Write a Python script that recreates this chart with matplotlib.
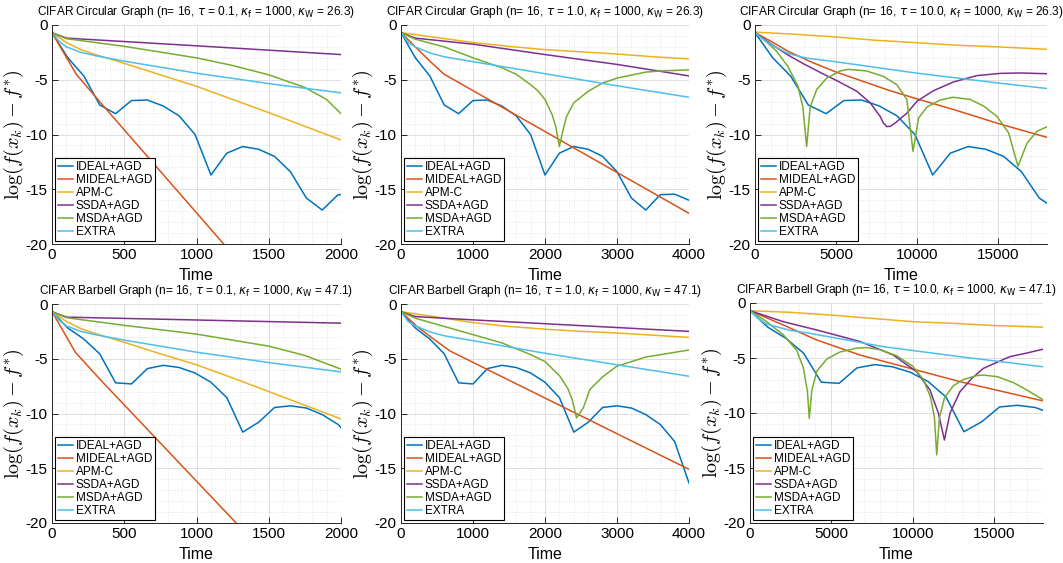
import numpy as np
import matplotlib
matplotlib.use('Agg')
import matplotlib.pyplot as plt
from matplotlib.ticker import AutoMinorLocator

plt.rcParams['font.family'] = ['Liberation Sans', 'DejaVu Sans']
plt.rcParams['axes.unicode_minus'] = False

labels = ['IDEAL+AGD', 'MIDEAL+AGD', 'APM-C', 'SSDA+AGD', 'MSDA+AGD', 'EXTRA']
colors = ['#0072BD', '#D95319', '#EDB120', '#7E2F8E', '#77AC30', '#4DBEEE']

# IDEAL+AGD values (piecewise, one value per outer iteration)
ideal_circ = [-0.7, -3.0, -4.65, -7.3, -8.1, -6.9, -6.85, -7.4, -8.3, -10.0, -13.7,
              -11.7, -11.1, -11.35, -12.0, -13.4, -15.8, -16.9, -15.5, -15.45, -16.0]
ideal_barb = [-0.7, -2.2, -3.2, -4.55, -7.2, -7.3, -5.9, -5.6, -5.8, -6.3, -7.15,
              -8.55, -11.7, -10.8, -9.45, -9.3, -9.5, -10.1, -11.0, -12.55, -16.35]
t_ideal_01 = [0, 110, 220, 330, 440, 550, 660, 770, 880, 990, 1100, 1210, 1320,
              1430, 1540, 1650, 1760, 1870, 1980, 2090]
t_ideal_1 = [0, 200, 400, 600, 800, 1000, 1200, 1400, 1600, 1800, 2000, 2200, 2400,
             2600, 2800, 3000, 3200, 3400, 3600, 3800, 4000]
t_ideal_10 = [0, 1095, 2190, 3285, 4380, 5475, 6570, 7665, 8760, 9855, 10950, 12045,
              13140, 14235, 15330, 16425, 17520, 18615]

# ---- Circular graph, tau = 0.1
c01_mideal_t = [0, 168, 330, 2000]
c01_mideal_y = [-0.7, -4.5, -7.0, -32.3]
c01_apm_t = [0, 100, 200, 300, 400, 500, 750, 1000, 1250, 1500, 1750, 2000]
c01_apm_y = [-0.7, -1.6, -2.25, -2.7, -3.1, -3.5, -4.55, -5.6, -6.8, -8.0, -9.25, -10.5]
c01_ssda_t = [0, 100, 1000, 2000]
c01_ssda_y = [-0.7, -1.2, -1.9, -2.7]
c01_msda_t = [0, 100, 500, 1000, 1250, 1500, 1750, 1900, 2000]
c01_msda_y = [-0.7, -1.25, -1.95, -3.0, -3.7, -4.55, -5.7, -6.8, -8.1]
c01_extra_t = [0, 50, 100, 200, 300, 500, 1000, 1500, 2000]
c01_extra_y = [-0.7, -1.5, -2.0, -2.5, -2.8, -3.3, -4.4, -5.35, -6.2]

# ---- Circular graph, tau = 1.0
c1_mideal_t = [0, 200, 400, 600, 4000]
c1_mideal_y = [-0.7, -2.0, -3.3, -4.5, -17.2]
c1_apm_t = [0, 500, 1000, 1500, 2000, 2500, 3000, 3500, 4000]
c1_apm_y = [-0.7, -1.15, -1.6, -1.95, -2.25, -2.45, -2.65, -2.9, -3.1]
c1_ssda_t = [0, 200, 1000, 2000, 3000, 4000]
c1_ssda_y = [-0.7, -1.2, -1.75, -2.7, -3.6, -4.65]
c1_msda_t = [0, 200, 600, 1000, 1200, 1400, 1600, 1800, 1900, 2000, 2100, 2150, 2200,
             2250, 2300, 2400, 2600, 2800, 3000, 3400, 3600, 4000]
c1_msda_y = [-0.7, -1.3, -2.0, -3.0, -3.45, -3.9, -4.5, -5.45, -6.0, -6.8, -8.2, -9.3,
             -11.1, -9.6, -8.35, -7.1, -6.05, -5.3, -4.85, -4.3, -4.2, -4.1]
c1_extra_t = [0, 100, 200, 400, 600, 1000, 2000, 3000, 4000]
c1_extra_y = [-0.7, -1.6, -2.0, -2.55, -2.9, -3.35, -4.45, -5.55, -6.6]

# ---- Circular graph, tau = 10.0
c10_mideal_t = [0, 1000, 2034, 3500, 4932, 8200, 10000, 12329, 15000, 18000]
c10_mideal_y = [-0.7, -1.5, -2.4, -3.4, -4.26, -5.94, -6.75, -7.76, -9.0, -10.26]
c10_apm_t = [0, 2500, 5000, 7500, 10000, 12500, 15000, 18000]
c10_apm_y = [-0.65, -0.85, -1.1, -1.4, -1.62, -1.85, -2.0, -2.22]
c10_ssda_t = [0, 1000, 2034, 3000, 4110, 5000, 6275, 7100, 7715, 7900, 8116, 8350, 8640,
              9360, 10000, 11000, 12240, 13680, 15120, 16350, 18000]
c10_ssda_y = [-0.7, -1.75, -2.74, -3.55, -4.4, -5.05, -6.05, -7.1, -8.35, -8.9, -9.28,
              -9.25, -8.95, -8.05, -6.95, -6.0, -5.2, -4.62, -4.42, -4.38, -4.45]
c10_msda_t = [0, 600, 1337, 2034, 2650, 2950, 3185, 3400, 3800, 4420, 5245, 5733, 6890,
              7920, 8743, 9360, 9740, 10080, 10595, 11418, 12205, 13270, 14092, 14915,
              15635, 16210, 16765, 17383, 18000]
c10_msda_y = [-0.7, -1.4, -2.4, -3.8, -5.6, -7.5, -11.1, -7.5, -5.9, -4.85, -4.2, -4.05,
              -4.2, -4.7, -5.45, -6.8, -11.55, -8.5, -7.5, -6.85, -6.6, -6.8, -7.4, -8.35,
              -9.85, -12.9, -10.8, -9.7, -9.3]
c10_extra_t = [0, 500, 1017, 2034, 3082, 4932, 10000, 15000, 18000]
c10_extra_y = [-0.7, -1.3, -1.83, -2.6, -3.0, -3.35, -4.4, -5.3, -5.8]

# ---- Barbell graph, tau = 0.1
b01_mideal_t = [0, 161, 330, 2000]
b01_mideal_y = [-0.7, -4.4, -6.85, -30.1]
b01_apm_t = [0, 100, 200, 300, 400, 500, 750, 1000, 1250, 1500, 1750, 2000]
b01_apm_y = [-0.7, -1.6, -2.25, -2.7, -3.1, -3.5, -4.55, -5.55, -6.75, -8.0, -9.25, -10.5]
b01_ssda_t = [0, 100, 2000]
b01_ssda_y = [-0.7, -1.2, -1.75]
b01_msda_t = [0, 100, 500, 1000, 1500, 1750, 2000]
b01_msda_y = [-0.7, -1.25, -1.95, -2.75, -3.85, -4.7, -5.95]
b01_extra_t = [0, 50, 100, 200, 300, 500, 1000, 1500, 2000]
b01_extra_y = [-0.7, -1.5, -2.0, -2.5, -2.8, -3.3, -4.4, -5.35, -6.2]

# ---- Barbell graph, tau = 1.0
b1_mideal_t = [0, 222, 452, 683, 4000]
b1_mideal_y = [-0.7, -2.05, -3.2, -4.3, -15.1]
b1_apm_t = [0, 500, 1000, 1500, 2000, 2500, 3000, 3500, 4000]
b1_apm_y = [-0.7, -1.2, -1.7, -2.05, -2.3, -2.5, -2.65, -2.85, -3.05]
b1_ssda_t = [0, 200, 1000, 2000, 3000, 4000]
b1_ssda_y = [-0.7, -1.15, -1.45, -1.8, -2.15, -2.5]
b1_msda_t = [0, 200, 1000, 1400, 1792, 2000, 2208, 2323, 2380, 2439, 2531, 2624, 2800,
             2993, 3395, 4000]
b1_msda_y = [-0.7, -1.3, -2.8, -3.55, -4.6, -5.25, -6.6, -7.8, -8.8, -10.4, -9.5, -7.8,
             -6.65, -5.7, -4.85, -4.2]
b1_extra_t = [0, 100, 200, 400, 600, 1000, 2000, 3000, 4000]
b1_extra_y = [-0.7, -1.6, -2.0, -2.55, -2.9, -3.35, -4.5, -5.55, -6.6]

# ---- Barbell graph, tau = 10.0
b10_mideal_t = [0, 2048, 4096, 6758, 9830, 12900, 18000]
b10_mideal_y = [-0.7, -2.0, -3.36, -4.73, -5.94, -7.15, -8.9]
b10_apm_t = [0, 2500, 5000, 7500, 10000, 12500, 15000, 18000]
b10_apm_y = [-0.7, -0.85, -1.1, -1.4, -1.7, -1.85, -2.05, -2.2]
b10_ssda_t = [0, 2048, 4096, 6758, 8805, 10235, 11055, 11570, 11943, 12290, 12900, 13600,
              14334, 15960, 17000, 18000]
b10_ssda_y = [-0.7, -1.7, -2.45, -3.5, -4.73, -6.25, -7.9, -10.0, -12.45, -10.0, -8.06,
              -6.9, -5.94, -4.88, -4.55, -4.2]
b10_msda_t = [0, 1025, 2050, 2870, 3280, 3526, 3643, 3793, 4100, 4715, 5535, 6560, 7175,
              7995, 9020, 10000, 10660, 11100, 11330, 11470, 11640, 11950, 12505, 13120,
              13940, 14334, 15200, 16200, 17000, 18000]
b10_msda_y = [-0.7, -1.7, -2.9, -4.3, -5.9, -8.0, -10.5, -8.0, -6.2, -5.1, -4.45, -4.1,
              -4.05, -4.25, -4.8, -5.75, -7.0, -8.6, -10.4, -13.8, -10.4, -8.6, -7.5, -6.95,
              -6.6, -6.55, -6.7, -7.25, -7.9, -8.8]
b10_extra_t = [0, 500, 1000, 2500, 3584, 8190, 12900, 18000]
b10_extra_y = [-0.7, -1.4, -1.9, -2.5, -2.73, -3.97, -4.88, -5.8]

titles = [
    r'CIFAR Circular Graph (n= 16, $\tau$ = 0.1, $\kappa_{\mathrm{f}}$ = 1000, $\kappa_{\mathrm{W}}$ = 26.3)',
    r'CIFAR Circular Graph (n= 16, $\tau$ = 1.0, $\kappa_{\mathrm{f}}$ = 1000, $\kappa_{\mathrm{W}}$ = 26.3)',
    r'CIFAR Circular Graph (n= 16, $\tau$ = 10.0, $\kappa_{\mathrm{f}}$ = 1000, $\kappa_{\mathrm{W}}$ = 26.3)',
    r'CIFAR Barbell Graph (n= 16, $\tau$ = 0.1, $\kappa_{\mathrm{f}}$ = 1000, $\kappa_{\mathrm{W}}$ = 47.1)',
    r'CIFAR Barbell Graph (n= 16, $\tau$ = 1.0, $\kappa_{\mathrm{f}}$ = 1000, $\kappa_{\mathrm{W}}$ = 47.1)',
    r'CIFAR Barbell Graph (n= 16, $\tau$ = 10.0, $\kappa_{\mathrm{f}}$ = 1000, $\kappa_{\mathrm{W}}$ = 47.1)',
]

panels = [
    [(t_ideal_01, ideal_circ), (c01_mideal_t, c01_mideal_y), (c01_apm_t, c01_apm_y),
     (c01_ssda_t, c01_ssda_y), (c01_msda_t, c01_msda_y), (c01_extra_t, c01_extra_y)],
    [(t_ideal_1, ideal_circ), (c1_mideal_t, c1_mideal_y), (c1_apm_t, c1_apm_y),
     (c1_ssda_t, c1_ssda_y), (c1_msda_t, c1_msda_y), (c1_extra_t, c1_extra_y)],
    [(t_ideal_10, ideal_circ), (c10_mideal_t, c10_mideal_y), (c10_apm_t, c10_apm_y),
     (c10_ssda_t, c10_ssda_y), (c10_msda_t, c10_msda_y), (c10_extra_t, c10_extra_y)],
    [(t_ideal_01, ideal_barb), (b01_mideal_t, b01_mideal_y), (b01_apm_t, b01_apm_y),
     (b01_ssda_t, b01_ssda_y), (b01_msda_t, b01_msda_y), (b01_extra_t, b01_extra_y)],
    [(t_ideal_1, ideal_barb), (b1_mideal_t, b1_mideal_y), (b1_apm_t, b1_apm_y),
     (b1_ssda_t, b1_ssda_y), (b1_msda_t, b1_msda_y), (b1_extra_t, b1_extra_y)],
    [(t_ideal_10, ideal_barb), (b10_mideal_t, b10_mideal_y), (b10_apm_t, b10_apm_y),
     (b10_ssda_t, b10_ssda_y), (b10_msda_t, b10_msda_y), (b10_extra_t, b10_extra_y)],
]

xmax = [2000, 4000, 18000, 2000, 4000, 18000]
xticks = [[0, 500, 1000, 1500, 2000], [0, 1000, 2000, 3000, 4000],
          [0, 5000, 10000, 15000], [0, 500, 1000, 1500, 2000],
          [0, 1000, 2000, 3000, 4000], [0, 5000, 10000, 15000]]

# axes rectangles in pixels: left, top, right, bottom
W, H = 1063, 563
boxes = [(52, 25, 341, 244), (401, 25, 689, 244), (755, 25, 1047, 244),
         (52, 304, 341, 523), (401, 304, 689, 523), (750, 303, 1043, 523)]

fig = plt.figure(figsize=(W / 100, H / 100), dpi=100)

for k in range(6):
    l, t, r, b = boxes[k]
    ax = fig.add_axes([l / W, (H - b) / H, (r - l) / W, (b - t) / H])
    for (x, y), c, lab in zip(panels[k], colors, labels):
        n = min(len(x), len(y))
        ax.plot(x[:n], y[:n], color=c, lw=1.1, label=lab)
    ax.set_xlim(0, xmax[k])
    ax.set_ylim(-20, 0)
    ax.set_xticks(xticks[k])
    ax.set_yticks([-20, -15, -10, -5, 0])
    ax.xaxis.set_minor_locator(AutoMinorLocator(5))
    ax.yaxis.set_minor_locator(AutoMinorLocator(5))
    ax.set_axisbelow(True)
    ax.grid(which='major', color='#dedede', lw=0.7)
    ax.grid(which='minor', color='#dcdcdc', lw=0.6, ls=(0, (1, 2)))
    ax.spines['top'].set_visible(False)
    ax.spines['right'].set_visible(False)
    for s in ('left', 'bottom'):
        ax.spines[s].set_color('#262626')
        ax.spines[s].set_linewidth(0.7)
    ax.tick_params(which='major', direction='in', length=4, width=0.7,
                   labelsize=11, colors='#262626', labelcolor='black', pad=3)
    ax.tick_params(which='minor', length=0)
    ax.set_xlabel('Time', fontsize=11.5, labelpad=4)
    ax.set_ylabel(r'$\log(f(x_k)-f^{*})$', fontsize=14.5, math_fontfamily='cm', labelpad=0)
    ax.set_title(titles[k], fontsize=8.6, pad=7, math_fontfamily='dejavusans')
    leg = ax.legend(loc='lower left', fontsize=8.5, frameon=True, fancybox=False,
                    framealpha=1, edgecolor='black', borderpad=0.25, labelspacing=0.08,
                    handlelength=1.3, handletextpad=0.2, borderaxespad=0.25)
    leg.get_frame().set_linewidth(0.8)

plt.savefig('out.png', dpi=100)
